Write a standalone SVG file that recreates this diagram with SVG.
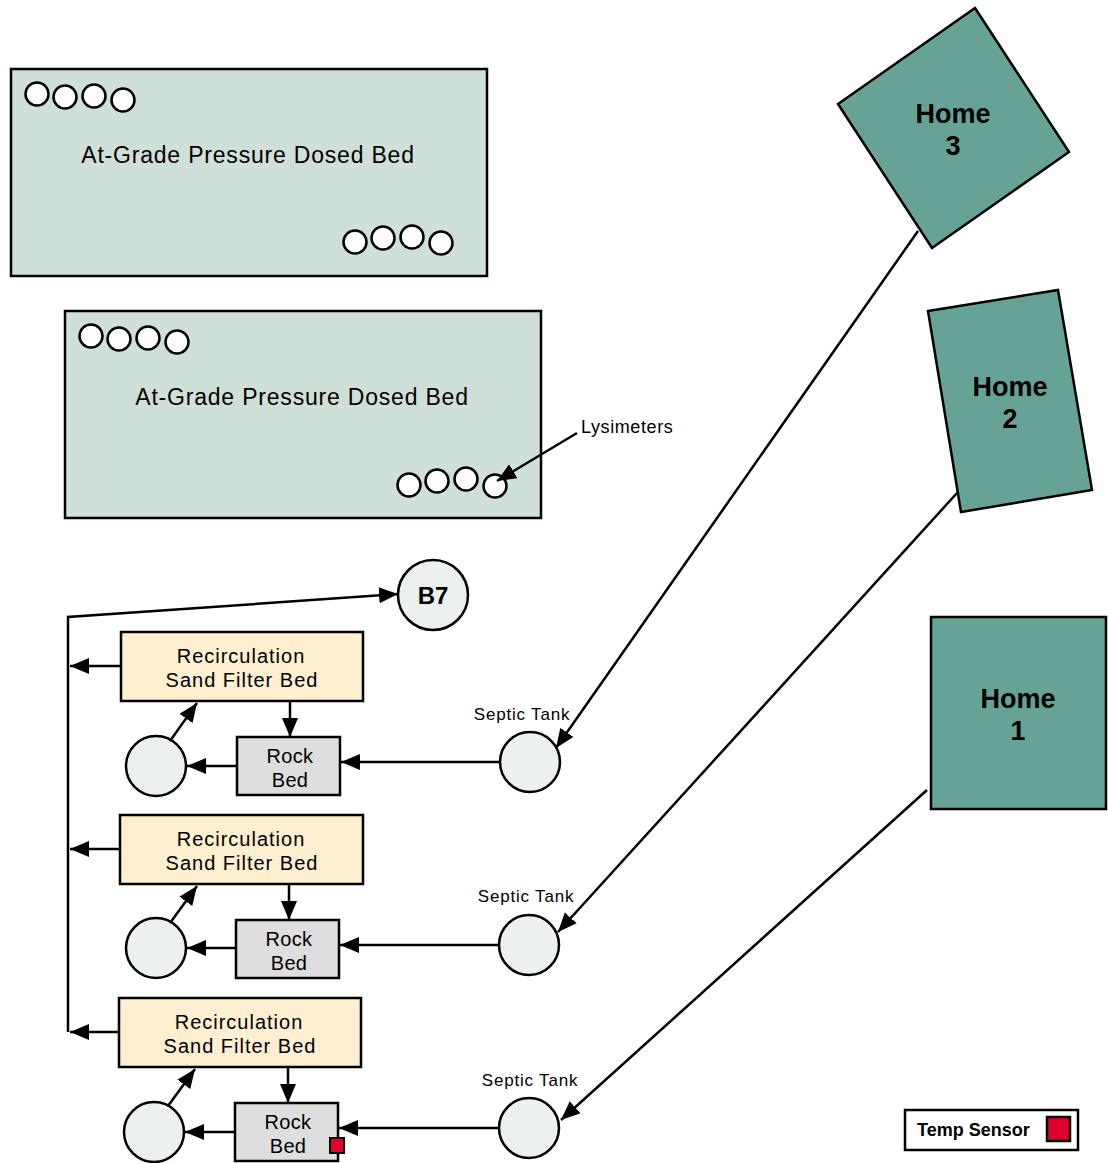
<svg xmlns="http://www.w3.org/2000/svg" width="1108" height="1163" viewBox="0 0 1108 1163">
<style>
text{font-family:"Liberation Sans",Arial,sans-serif;fill:#000}
.bed{fill:#cfe0d8;stroke:#000;stroke-width:2.5}
.lys{fill:#fff;stroke:#000;stroke-width:2.5}
.home{fill:#66a396;stroke:#000;stroke-width:2.5}
.sand{fill:#fdefd0;stroke:#000;stroke-width:2.5}
.rock{fill:#dedede;stroke:#000;stroke-width:2.5}
.circ{fill:#edf1ee;stroke:#000;stroke-width:2.5}
.red{fill:#e0002a;stroke:#000;stroke-width:2.5}
.ln{stroke:#000;stroke-width:2.5;fill:none}
.arr{marker-end:url(#ah)}
.title{font-size:23px;letter-spacing:0.8px;text-anchor:middle}
.box{font-size:20px;letter-spacing:1px;text-anchor:middle}
.rk{font-size:20px;letter-spacing:0.3px;text-anchor:middle}
.hm{font-size:27px;font-weight:bold;text-anchor:middle}
.lbl{font-size:17px;letter-spacing:0.8px;text-anchor:middle}
</style>
<defs>
<marker id="ah" markerUnits="userSpaceOnUse" markerWidth="22" markerHeight="18" refX="19" refY="8" orient="auto">
<path d="M0,0 L19,8 L0,16 z" fill="#000"/>
</marker>
</defs>

<g id="bed1">
<rect class="bed" x="11" y="69" width="476" height="207"/>
<circle class="lys" cx="37" cy="94" r="11.5"/>
<circle class="lys" cx="65" cy="97" r="11.5"/>
<circle class="lys" cx="94" cy="96" r="11.5"/>
<circle class="lys" cx="123" cy="100" r="11.5"/>
<circle class="lys" cx="355" cy="242" r="11.5"/>
<circle class="lys" cx="383" cy="238" r="11.5"/>
<circle class="lys" cx="412" cy="237" r="11.5"/>
<circle class="lys" cx="441" cy="243" r="11.5"/>
<text class="title" x="248" y="163">At-Grade Pressure Dosed Bed</text>
</g>

<g id="bed2">
<rect class="bed" x="65" y="311" width="476" height="207"/>
<circle class="lys" cx="91" cy="336" r="11.5"/>
<circle class="lys" cx="119" cy="339" r="11.5"/>
<circle class="lys" cx="148" cy="338" r="11.5"/>
<circle class="lys" cx="177" cy="342" r="11.5"/>
<circle class="lys" cx="409" cy="485" r="11.5"/>
<circle class="lys" cx="437" cy="481" r="11.5"/>
<circle class="lys" cx="466" cy="479" r="11.5"/>
<circle class="lys" cx="495" cy="486" r="11.5"/>
<text class="title" x="302" y="405">At-Grade Pressure Dosed Bed</text>
</g>

<g id="lysimeters-label">
<text x="581" y="433" style="font-size:18px;letter-spacing:0.6px">Lysimeters</text>
</g>

<g id="home3">
<polygon class="home" points="975,8 1069,152 932,248 838,104"/>
<text class="hm" x="953" y="123">Home</text>
<text class="hm" x="953" y="155">3</text>
</g>
<g id="home2">
<polygon class="home" points="928,311 1058,290 1092,490 961,512"/>
<text class="hm" x="1010" y="396">Home</text>
<text class="hm" x="1010" y="428">2</text>
</g>
<g id="home1">
<rect class="home" x="931" y="617" width="175" height="192"/>
<text class="hm" x="1018" y="708">Home</text>
<text class="hm" x="1018" y="740">1</text>
</g>

<g id="b7">
<circle class="circ" cx="433" cy="595" r="35"/>
<text x="433" y="604" style="font-size:24px;font-weight:bold;text-anchor:middle">B7</text>
</g>

<g id="sand1">
<rect class="sand" x="121" y="632" width="242" height="69"/>
<text class="box" x="241" y="663">Recirculation</text>
<text class="box" x="242" y="687">Sand Filter Bed</text>
</g>
<g id="rock1">
<rect class="rock" x="237" y="737" width="103" height="58"/>
<text class="rk" x="290" y="763">Rock</text>
<text class="rk" x="290" y="787">Bed</text>
</g>
<g id="pump1"><circle class="circ" cx="156" cy="766" r="30"/></g>
<g id="septic1">
<circle class="circ" cx="530" cy="762" r="30"/>
<text class="lbl" x="522" y="720">Septic Tank</text>
</g>

<g id="sand2">
<rect class="sand" x="120" y="815" width="243" height="69"/>
<text class="box" x="241" y="846">Recirculation</text>
<text class="box" x="242" y="870">Sand Filter Bed</text>
</g>
<g id="rock2">
<rect class="rock" x="236" y="920" width="103" height="58"/>
<text class="rk" x="289" y="946">Rock</text>
<text class="rk" x="289" y="970">Bed</text>
</g>
<g id="pump2"><circle class="circ" cx="156" cy="948" r="30"/></g>
<g id="septic2">
<circle class="circ" cx="529" cy="945" r="30"/>
<text class="lbl" x="526" y="902">Septic Tank</text>
</g>

<g id="sand3">
<rect class="sand" x="119" y="998" width="242" height="69"/>
<text class="box" x="239" y="1029">Recirculation</text>
<text class="box" x="240" y="1053">Sand Filter Bed</text>
</g>
<g id="rock3">
<rect class="rock" x="235" y="1103" width="103" height="58"/>
<text class="rk" x="288" y="1129">Rock</text>
<text class="rk" x="288" y="1153">Bed</text>
<rect class="red" x="330" y="1138" width="14" height="15" style="stroke-width:2"/>
</g>
<g id="pump3"><circle class="circ" cx="154" cy="1132" r="30"/></g>
<g id="septic3">
<circle class="circ" cx="529" cy="1128" r="30"/>
<text class="lbl" x="530" y="1086">Septic Tank</text>
</g>

<g id="legend">
<rect x="905" y="1110" width="173" height="40" fill="#fff" stroke="#000" stroke-width="2.5"/>
<text x="917" y="1136" style="font-size:18px;font-weight:bold">Temp Sensor</text>
<rect class="red" x="1047" y="1117" width="23" height="24"/>
</g>

<g id="connectors">
<line class="ln arr" x1="577" y1="433" x2="497" y2="481"/>
<line class="ln arr" x1="918" y1="231" x2="556" y2="748"/>
<line class="ln arr" x1="957" y1="493" x2="558" y2="932"/>
<line class="ln arr" x1="927" y1="790" x2="561" y2="1120"/>
<polyline class="ln arr" points="68,1032 68,617 398,594"/>
<line class="ln arr" x1="121" y1="666" x2="70" y2="666"/>
<line class="ln arr" x1="120" y1="849" x2="70" y2="849"/>
<line class="ln arr" x1="119" y1="1032" x2="70" y2="1032"/>
<line class="ln arr" x1="290" y1="701" x2="290" y2="737"/>
<line class="ln arr" x1="289" y1="884" x2="289" y2="920"/>
<line class="ln arr" x1="288" y1="1067" x2="288" y2="1103"/>
<line class="ln arr" x1="237" y1="766" x2="187" y2="766"/>
<line class="ln arr" x1="236" y1="948" x2="187" y2="948"/>
<line class="ln arr" x1="235" y1="1132" x2="185" y2="1132"/>
<line class="ln arr" x1="170" y1="741" x2="197" y2="703"/>
<line class="ln arr" x1="170" y1="923" x2="197" y2="886"/>
<line class="ln arr" x1="168" y1="1106" x2="195" y2="1069"/>
<line class="ln arr" x1="500" y1="762" x2="341" y2="762"/>
<line class="ln arr" x1="499" y1="945" x2="340" y2="945"/>
<line class="ln arr" x1="499" y1="1128" x2="339" y2="1128"/>
</g>
</svg>
